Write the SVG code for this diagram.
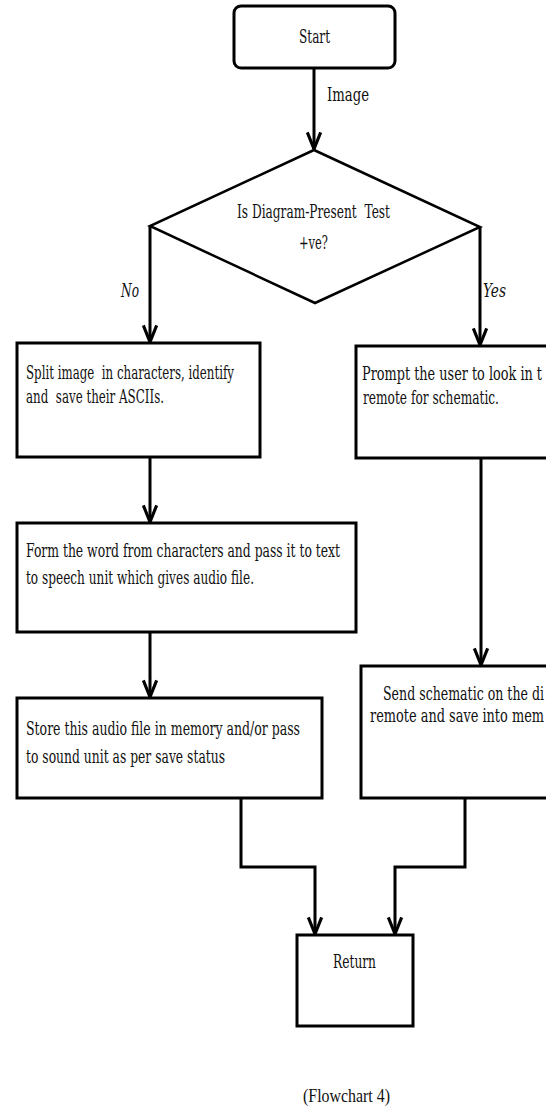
<svg xmlns="http://www.w3.org/2000/svg" width="546" height="1117" viewBox="0 0 546 1117">
<defs>
<style>
.box{fill:#fff;stroke:#000;stroke-width:3}
.ln{fill:none;stroke:#000;stroke-width:3}
.t{font-family:"DejaVu Serif","Liberation Serif",serif;font-size:18px;fill:#111}
.it{font-style:italic}
.cap{font-family:"Liberation Serif",serif;font-size:18px;fill:#111}
</style>
<marker id="arr" markerUnits="userSpaceOnUse" markerWidth="20" markerHeight="20" viewBox="-16 -8 18 16" refX="0" refY="0" orient="auto">
<path d="M-15,-6 L0,0 L-15,6" fill="none" stroke="#000" stroke-width="2.8"/>
</marker>
</defs>
<rect width="546" height="1117" fill="#fff"/>
<g id="connectors">
<path class="ln" d="M314,68 V149" marker-end="url(#arr)"/>
<path class="ln" d="M150,226 V342" marker-end="url(#arr)"/>
<path class="ln" d="M480,227 V345" marker-end="url(#arr)"/>
<path class="ln" d="M150,457 V522" marker-end="url(#arr)"/>
<path class="ln" d="M150,632 V697" marker-end="url(#arr)"/>
<path class="ln" d="M481,458 V665" marker-end="url(#arr)"/>
<path class="ln" d="M241,798 V867 H315 V934" marker-end="url(#arr)"/>
<path class="ln" d="M465,798 V867 H395 V934" marker-end="url(#arr)"/>
<text class="t" x="327" y="101" textLength="42" lengthAdjust="spacingAndGlyphs" font-size="19">Image</text>
<text class="t it" x="121" y="297" textLength="18" lengthAdjust="spacingAndGlyphs" font-size="19">No</text>
<text class="t it" x="483" y="297" textLength="23" lengthAdjust="spacingAndGlyphs" font-size="19">Yes</text>
</g>
<g id="start">
<rect class="box" x="234" y="6" width="161" height="62" rx="7"/>
<text class="t" x="299" y="43" textLength="31" lengthAdjust="spacingAndGlyphs" font-size="19">Start</text>
</g>
<g id="decision">
<polygon class="box" points="314,150 480,227 315,303 150,226" style="stroke-width:2.5"/>
<text class="t" x="237" y="218" textLength="153" lengthAdjust="spacingAndGlyphs" xml:space="preserve">Is Diagram-Present  Test</text>
<text class="t" x="299" y="249" textLength="29" lengthAdjust="spacingAndGlyphs">+ve?</text>
</g>
<g id="split">
<rect class="box" x="17" y="343" width="243" height="114"/>
<text class="t" x="26" y="379" textLength="208" lengthAdjust="spacingAndGlyphs" xml:space="preserve">Split image  in characters, identify</text>
<text class="t" x="26" y="403" textLength="138" lengthAdjust="spacingAndGlyphs" xml:space="preserve">and  save their ASCIIs.</text>
</g>
<g id="prompt">
<rect class="box" x="356" y="346" width="260" height="112"/>
<text class="t" x="362" y="380" textLength="180" lengthAdjust="spacingAndGlyphs">Prompt the user to look in t</text>
<text class="t" x="363" y="404" textLength="136" lengthAdjust="spacingAndGlyphs">remote for schematic.</text>
</g>
<g id="form">
<rect class="box" x="17" y="523" width="339" height="109"/>
<text class="t" x="26" y="557" textLength="314" lengthAdjust="spacingAndGlyphs">Form the word from characters and pass it to text</text>
<text class="t" x="26" y="584" textLength="228" lengthAdjust="spacingAndGlyphs">to speech unit which gives audio file.</text>
</g>
<g id="store">
<rect class="box" x="17" y="698" width="305" height="100"/>
<text class="t" x="26" y="735" textLength="274" lengthAdjust="spacingAndGlyphs">Store this audio file in memory and/or pass</text>
<text class="t" x="26" y="763" textLength="199" lengthAdjust="spacingAndGlyphs">to sound unit as per save status</text>
</g>
<g id="send">
<rect class="box" x="361" y="666" width="260" height="132"/>
<text class="t" x="383" y="700" textLength="161" lengthAdjust="spacingAndGlyphs">Send schematic on the di</text>
<text class="t" x="370" y="722" textLength="174" lengthAdjust="spacingAndGlyphs">remote and save into mem</text>
</g>
<g id="return">
<rect class="box" x="297" y="935" width="116" height="91"/>
<text class="t" x="333" y="968" textLength="43" lengthAdjust="spacingAndGlyphs">Return</text>
</g>
<g id="caption">
<text class="cap" x="303" y="1102" textLength="87" lengthAdjust="spacingAndGlyphs">(Flowchart 4)</text>
</g>
</svg>
